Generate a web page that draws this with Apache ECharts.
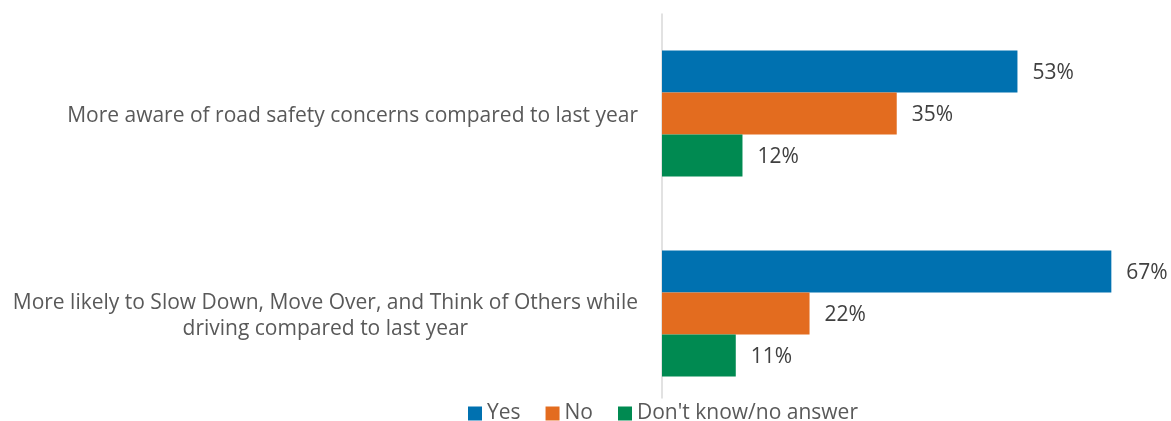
<!DOCTYPE html>
<html>
<head>
<meta charset="utf-8">
<script src="https://cdn.jsdelivr.net/npm/echarts@6/dist/echarts.min.js"></script>
<style>
  html, body { margin: 0; padding: 0; background: #fff; }
  #chart { width: 1171px; height: 421px; }
</style>
</head>
<body>
<div id="chart"></div>
<script>
const categories = [
  'More aware of road safety concerns compared to last year',
  'More likely to Slow Down, Move Over, and Think of Others while\ndriving compared to last year'
];
const seriesNames = ['Yes', 'No', "Don't know/no answer"];
const yesValues = [53, 67];
const noValues = [35, 22];
const dontKnowValues = [12, 11];
const colors = ['#0071b0', '#e36c1f', '#008a51'];

const font = '"Open Sans", sans-serif';

function makeSeries(name, data, color) {
  return {
    name: name,
    type: 'bar',
    data: data,
    barWidth: 42,
    barGap: '0%',
    itemStyle: { color: color },
    label: {
      show: true,
      position: 'right',
      distance: 15,
      offset: [0, 2],
      formatter: '{c}%',
      color: '#404040',
      fontSize: 21,
      fontFamily: font
    }
  };
}

const chart = echarts.init(document.getElementById('chart'));
chart.setOption({
  animation: false,
  color: colors,
  grid: [
    { left: 662, top: 13.5, height: 400, right: 6, containLabel: false },
    { left: 662, top: 14, height: 384, width: 1, containLabel: false }
  ],
  legend: {
    data: seriesNames,
    left: 463,
    top: 398,
    icon: 'rect',
    itemWidth: 14,
    itemHeight: 14,
    itemGap: 25,
    textStyle: { color: '#595959', fontSize: 21, fontFamily: font }
  },
  xAxis: [
    { type: 'value', min: 0, max: 75, show: false, gridIndex: 0 },
    { type: 'value', show: false, gridIndex: 1 }
  ],
  yAxis: [
    {
      type: 'category',
      gridIndex: 0,
      data: categories,
      inverse: true,
      axisLine: { show: false },
      axisTick: { show: false },
      axisLabel: {
        margin: 24,
        color: '#595959',
        fontSize: 21,
        fontFamily: font,
        lineHeight: 26,
        padding: [6, 0, 0, 0],
        formatter: function (v) {
          return v.split('\n').map(function (s) { return '{c|' + s + '}'; }).join('\n');
        },
        rich: {
          c: { align: 'center', color: '#595959', fontSize: 21, fontFamily: font, lineHeight: 26 }
        }
      }
    },
    {
      type: 'value',
      gridIndex: 1,
      axisLine: { show: true, lineStyle: { color: '#d9d9d9', width: 1.5 } },
      axisTick: { show: false },
      axisLabel: { show: false },
      splitLine: { show: false }
    }
  ],
  series: [
    makeSeries(seriesNames[0], yesValues, colors[0]),
    makeSeries(seriesNames[1], noValues, colors[1]),
    makeSeries(seriesNames[2], dontKnowValues, colors[2])
  ]
});
</script>
</body>
</html>
